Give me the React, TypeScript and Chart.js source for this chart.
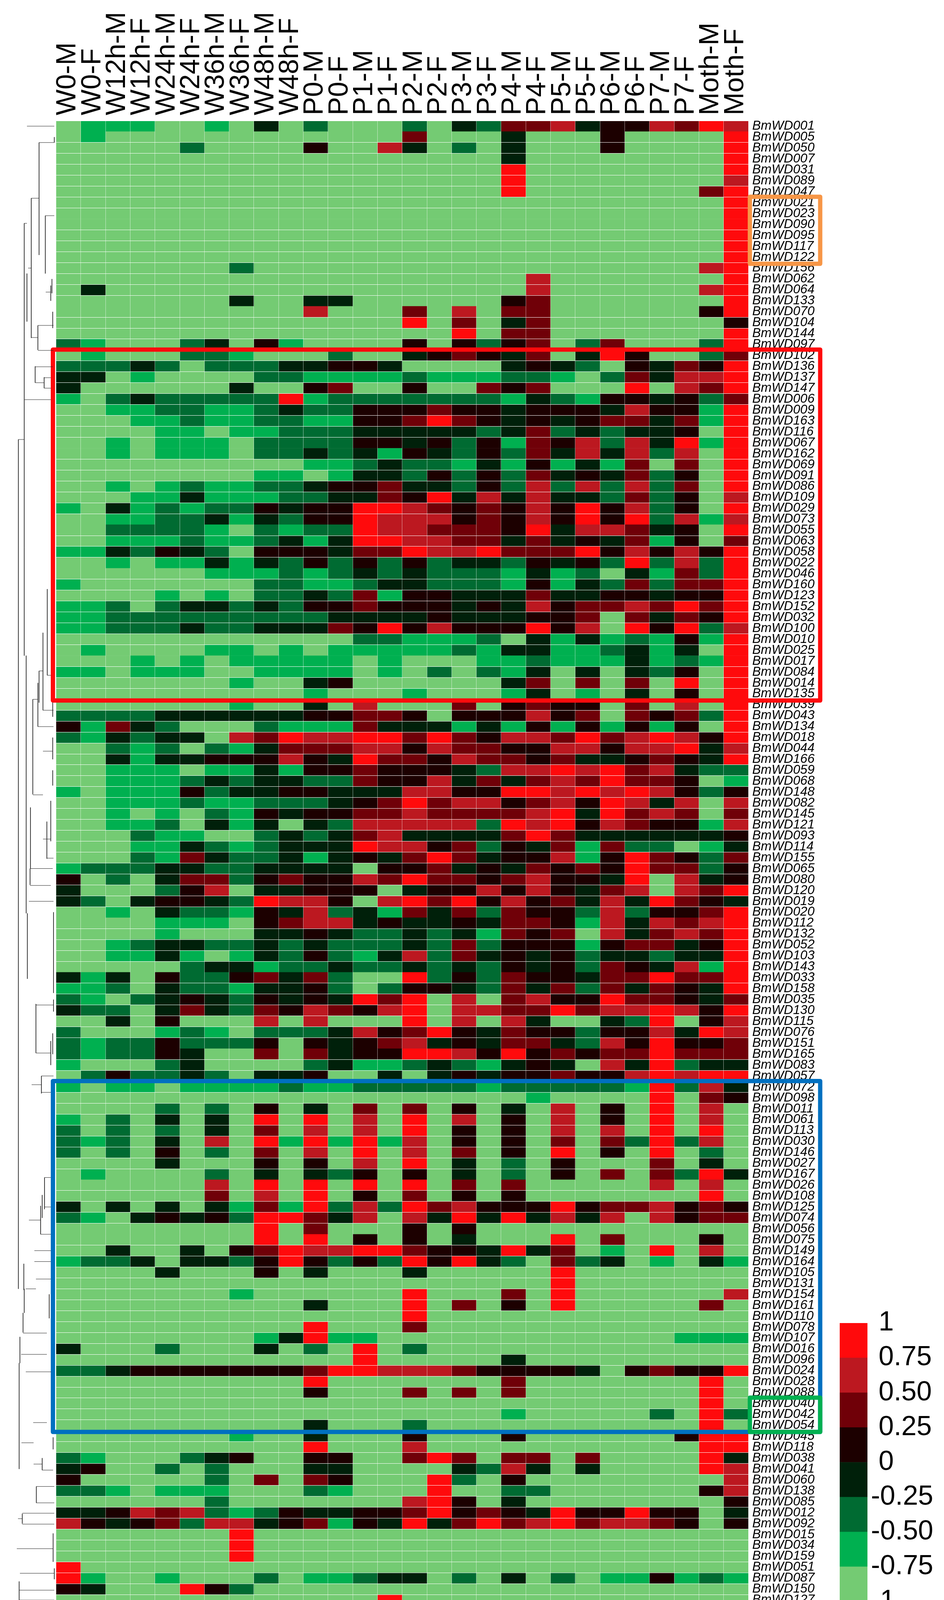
import React, { useEffect, useRef } from 'react';
import Chart from 'chart.js/auto';

const sampleLabels = ['W0-M', 'W0-F', 'W12h-M', 'W12h-F', 'W24h-M', 'W24h-F', 'W36h-M', 'W36h-F', 'W48h-M', 'W48h-F', 'P0-M', 'P0-F', 'P1-M', 'P1-F', 'P2-M', 'P2-F', 'P3-M', 'P3-F', 'P4-M', 'P4-F', 'P5-M', 'P5-F', 'P6-M', 'P6-F', 'P7-M', 'P7-F', 'Moth-M', 'Moth-F'];

const geneLabels = ['001', '005', '050', '007', '031', '089', '047', '021', '023', '090', '095', '117', '122', '156', '062', '064', '133', '070', '104', '144', '097',
  '102', '136', '137', '147', '006', '009', '163', '116', '067', '162', '069', '091', '086', '109', '029', '073', '055', '063', '058', '022', '046', '160', '123', '152', '032', '100', '010', '025', '017', '084', '014', '135',
  '039', '043', '134', '018', '044', '166', '059', '068', '148', '082', '145', '121', '093', '114', '155', '065', '080', '120', '019', '020', '112', '132', '052', '103', '143', '033', '158', '035', '130', '115', '076', '151', '165', '083', '057',
  '072', '098', '011', '061', '113', '030', '146', '027', '167', '026', '108', '125', '074', '056', '075', '149', '164', '105', '131', '154', '161', '110', '078', '107', '016', '096', '024', '028', '088', '040', '042', '054',
  '045', '118', '038', '041', '060', '138', '085', '012', '092', '015', '034', '159', '051', '087', '150', '127'].map(n => 'BmWD' + n);

// colour class of each cell, 0 (-1..-0.75) up to 7 (0.75..1), one string per gene
const geneLevels = [
  '0111 0010 3020 0020 3255 6344 6576',
  '0100 0000 0000 0050 0030 0040 0007',
  '0000 0200 0040 0630 2030 0040 0007',
  '0000 0000 0000 0000 0030 0000 0007',
  '0000 0000 0000 0000 0070 0000 0007',
  '0000 0000 0000 0000 0070 0000 0006',
  '0000 0000 0000 0000 0070 0000 0057',
  '0000 0000 0000 0000 0000 0000 0007',
  '0000 0000 0000 0000 0000 0000 0007',
  '0000 0000 0000 0000 0000 0000 0007',
  '0000 0000 0000 0000 0000 0000 0007',
  '0000 0000 0000 0000 0000 0000 0007',
  '0000 0000 0000 0000 0000 0000 0007',
  '0000 0002 0000 0000 0000 0000 0067',
  '0000 0000 0000 0000 0006 0000 0007',
  '0300 0000 0000 0000 0006 0000 0067',
  '0000 0003 0033 0000 0045 0000 0007',
  '0000 0000 0060 0050 6055 0000 0047',
  '0000 0000 0000 0070 5035 0000 0004',
  '0000 0000 0000 0000 7055 0000 0007',
  '2100 0230 4100 0040 4245 0250 0027',
  '0100 0221 0002 0034 5435 0374 0025',
  '2223 2022 2334 4300 0034 3204 3547',
  '3301 0000 2211 1121 1122 1025 3667',
  '3000 0003 0045 0040 0545 0007 0657',
  '1023 2222 2712 2222 2213 2144 3425',
  '0011 2211 2322 4445 4434 4436 4417',
  '0001 1211 2211 4457 5434 3455 3517',
  '0000 1101 1222 3333 3235 2323 3407',
  '0010 1110 2222 4434 2415 4626 3717',
  '0010 1110 2232 3143 2425 3636 2607',
  '0000 0000 0011 2322 1314 1315 0507',
  '0000 0000 1101 3324 2425 3435 2407',
  '0010 1211 2234 4533 2426 2626 2507',
  '0001 1311 1223 3547 3636 3325 2406',
  '1031 2122 4344 7765 4546 4746 2407',
  '0011 2231 3244 7666 4546 4747 2616',
  '0022 2210 2122 7665 5547 3665 3407',
  '0011 1211 2313 7766 5535 3435 1405',
  '1132 4320 4443 5576 6755 5746 4647',
  '0010 1131 3242 4242 3324 3427 2627',
  '0000 0011 1212 3232 2213 1203 1527',
  '1000 0000 2211 2332 2214 1325 2557',
  '0000 1010 2232 5144 3335 3344 3447',
  '1120 2332 3244 5444 3436 4556 5757',
  '1122 2222 2223 3334 3334 4505 3547',
  '1122 2322 3335 4746 4447 4607 4726',
  '0000 0000 0000 2211 1203 1312 1417',
  '0100 0011 0101 1111 2133 1123 1307',
  '0001 0101 1111 0100 0112 1113 1217',
  '1101 1100 1111 0102 0213 0303 2407',
  '0000 0001 0034 0000 0035 0505 0707',
  '0000 0000 0010 0010 0013 0103 0407',
  '0000 0001 0030 6000 5045 4405 0607',
  '2222 3333 3344 5540 4446 4505 4527',
  '4153 2000 2111 5333 1314 1414 1407',
  '2132 3306 5766 7757 5466 5756 7647',
  '0021 2021 3555 6646 5544 6646 6736',
  '0031 3344 4643 7554 6554 5334 5437',
  '0011 1011 3144 5444 3266 7675 6322',
  '0011 1232 3322 5446 3535 6575 5401',
  '1011 1423 3443 3366 4477 6767 6424',
  '0011 1211 2223 4575 6645 6476 3606',
  '0010 1021 4344 5565 5556 7375 6505',
  '0011 2031 3032 6666 6276 7465 4416',
  '0002 1100 2323 5633 3357 5333 3334',
  '0001 1321 2333 7664 5243 5152 2013',
  '0002 1532 2313 4357 5344 6147 5425',
  '1222 3322 3333 0445 3435 4547 5524',
  '4020 3552 4544 6575 5456 4437 0634',
  '3000 2460 3344 4034 4646 4356 0657',
  '3203 4432 7664 0675 7464 5363 7543',
  '0010 3221 4362 3153 5254 4262 4457',
  '0000 1110 4566 3433 4355 4163 6567',
  '0000 1000 3343 2232 3154 5063 5657',
  '0012 3322 3232 2232 5244 4145 5347',
  '0011 3101 3242 1362 5343 4233 2337',
  '0000 0233 1223 2232 3243 4254 3617',
  '3130 4224 5352 0072 4254 4355 7557',
  '1120 3221 3342 0244 3253 5253 5437',
  '2102 3432 4343 7570 6056 4475 5435',
  '3220 3532 5465 4670 6655 7566 7647',
  '0030 4000 6060 0070 6063 0032 7046',
  '2000 1210 2223 6457 4354 4244 6376',
  '2122 4222 4043 4563 4355 3264 7445',
  '2122 4300 5053 4477 6474 5455 7555',
  '1000 2300 0023 1123 2134 3063 7233',
  '0242 2320 3340 0303 4344 5446 7677',
  '1011 0111 1211 2222 2122 2221 7263',
  '0000 0000 0000 0000 0001 0000 7054',
  '0000 2020 4030 5050 4030 6040 7060',
  '1020 3030 7070 6070 6040 6040 7060',
  '2020 2030 5060 6070 4040 6060 7070',
  '2120 3060 7171 7160 4040 5052 7260',
  '2020 4020 5060 7060 5040 7040 7020',
  '0000 3000 4040 6070 3020 4000 5030',
  '0100 0020 3032 4040 3020 4050 5273',
  '0000 0060 7070 7070 5050 0000 6060',
  '0000 0050 6070 4050 4040 0000 0070',
  '3030 3031 5172 6275 6444 7455 6454',
  '2103 4342 7753 6063 7373 6360 6455',
  '0000 0000 7050 0040 4000 0000 0000',
  '0000 0000 7070 4040 3000 7050 0040',
  '0030 0304 5766 7754 4373 5010 7060',
  '1223 0332 4742 4274 7320 5230 1031',
  '0000 3000 4030 0030 0000 7000 0000',
  '0000 0000 0000 0000 0000 7000 0000',
  '0000 0001 0000 0070 0050 7000 0006',
  '0000 0000 0030 0070 5040 7000 0050',
  '0000 0000 0000 0070 0000 0000 0000',
  '0000 0000 0070 0050 0000 0000 0000',
  '0000 0000 1371 1000 0000 0000 0111',
  '3000 2000 3020 7020 0000 0000 0000',
  '0000 0000 0000 7000 0030 0000 0000',
  '2234 4444 4457 7666 5444 4304 5447',
  '0000 0000 0070 0000 0050 0000 0070',
  '0000 0000 0040 0050 5050 0000 0070',
  '0000 0000 0000 0000 0000 0000 0070',
  '0000 0000 0000 0000 0010 0000 2072',
  '0000 0000 0030 0020 0000 0000 0070',
  '0000 0001 0030 0040 0040 0000 0477',
  '0000 0000 0070 0060 0000 0000 0077',
  '2100 0234 0044 0057 5055 0500 0073',
  '3400 2020 0033 0000 3263 0300 0076',
  '4000 0020 5054 0007 2040 0000 0006',
  '2210 1110 0021 0007 0022 0000 0046',
  '0000 0020 0000 0067 4030 0000 0004',
  '3346 5621 2433 4457 4543 7447 4403',
  '6434 5266 3451 4373 5756 7566 5404',
  '0000 0007 0000 0000 0000 0000 0000',
  '0000 0007 0000 0000 0000 0000 0000',
  '0000 0007 0000 0000 0000 0000 0000',
  '7000 0000 0000 0000 0000 0000 0000',
  '7100 1000 2011 2330 2030 2011 4121',
  '4300 0742 0000 0000 0000 0000 0000',
  '0000 0000 0000 0700 0000 0000 0000',
].map(r => r.replace(/ /g, ''));

const levelColors = ['#74CB73', '#00B050', '#006B32', '#00200A', '#1C0000', '#700008', '#BC1820', '#FF0A0C'];
const legendBounds = [-1, -0.75, -0.5, -0.25, 0, 0.25, 0.5, 0.75, 1];
const legendTicks = ['-1', '-0.75', '-0.50', '-0.25', ' 0', ' 0.25', ' 0.50', ' 0.75', ' 1'];

// the picture has no white seam under these genes
const genesWithoutSeam = ['BmWD001', 'BmWD023', 'BmWD133', 'BmWD067', 'BmWD073', 'BmWD022', 'BmWD025', 'BmWD020', 'BmWD143', 'BmWD151', 'BmWD167', 'BmWD056'];

// dendrogram, height axis then row positions: [height, rowFrom, rowTo]
const dendroStems = [
  [139, 1.5, 2], [100, 2, 12.3], [80, 7.1, 19.9], [116, 8.7, 14], [62, 9.4, 49], [69, 14, 18.4],
  [130, 15.1, 16.5], [133, 14.5, 15.8], [135, 17.5, 19], [97, 18.75, 21], [90, 22.5, 24], [113, 23.5, 24.5],
  [47, 29.2, 107], [62, 107, 109.2], [67, 49, 72.6], [70, 72.6, 78.6], [121, 42.9, 50.8], [110, 46.9, 54],
  [100, 50.4, 53.3], [84, 53, 61.7], [97, 51.5, 55.5], [135, 53.3, 54.6], [135, 56.5, 58.5], [135, 59.5, 60.9],
  [78, 62.9, 68.5], [130, 62.3, 66], [120, 64.2, 67.6], [77, 68.5, 70], [137, 72.5, 79.9], [92, 80.9, 85.4],
  [137, 80.5, 81.6], [130, 84.3, 86.5], [135, 83.6, 85.5], [106, 87.5, 89.1], [114, 96.8, 99.7], [104, 99.4, 102],
  [108, 98.4, 100.5], [61, 104.7, 107.1], [126, 107.5, 109.7], [59, 109.2, 111], [51, 111.4, 113.8], [49, 113.8, 123.5],
  [136, 120.6, 121.7], [108, 122.5, 123.6], [93, 125.1, 126.6], [57, 127.6, 128.5], [136, 129.4, 132], [139, 132.6, 133.6],
  [49, 133.8, 135.5],
];
// [row, heightFrom, heightTo]
const dendroBranches = [
  [0.5, 69, 139], [2, 100, 139], [7.1, 80, 100], [8.7, 116, 139], [9.4, 62, 69], [13.5, 72, 80], [15.7, 117, 130],
  [18.75, 97, 137], [21.04, 97, 137], [19.86, 80, 97], [22.54, 90, 135], [24, 90, 113], [23.54, 113, 130], [24.5, 113, 130],
  [25.55, 63, 130], [29.2, 47, 63], [50.4, 100, 110], [50.8, 121, 130], [53, 84, 97], [55.5, 97, 137], [54, 110, 137],
  [57.75, 110, 135], [61.75, 84, 110], [68.5, 78, 135], [65.8, 110, 130], [67.55, 120, 137], [70.05, 77, 130], [71.5, 74, 137],
  [81, 92, 137], [85.4, 92, 130], [87.5, 106, 137], [88.3, 81, 106], [89, 106, 130], [96.8, 114, 130], [102, 104, 130],
  [99.5, 114, 130], [100.7, 74, 104], [103.5, 88, 130], [104.5, 88, 130], [106.1, 92, 130], [107, 66, 92], [111.05, 59, 120],
  [113, 54, 120], [114.6, 66, 131], [119.25, 85, 120], [121.1, 55, 86], [123.6, 108, 136], [123.05, 86, 108], [125.1, 93, 139],
  [126.6, 93, 139], [127.55, 57, 139], [128.55, 57, 139], [128.05, 46, 57], [130.8, 43, 136], [133.05, 51, 139], [134.6, 49, 139],
  [135.5, 49, 139],
];

const PAGE_W = 2417;
const PAGE_H = 4162;
const FONT = '"Liberation Sans", Arial, sans-serif';

// coloured frames round gene groups, drawn on top of the labels
const frames = [
  { from: 'BmWD021', to: 'BmWD122', color: '#F79646', wide: false },
  { from: 'BmWD102', to: 'BmWD135', color: '#FF0A0C', wide: true },
  { from: 'BmWD072', to: 'BmWD054', color: '#0070C0', wide: true },
  { from: 'BmWD040', to: 'BmWD054', color: '#00B050', wide: false },
];

const framePlugin = {
  id: 'frames',
  afterDraw(chart: any) {
    const { ctx, chartArea, scales } = chart;
    const half = (scales.y.bottom - scales.y.top) / geneLabels.length / 2;
    ctx.save();
    ctx.lineJoin = 'round';
    ctx.lineWidth = 11;
    frames.forEach(f => {
      const top = scales.y.getPixelForValue(geneLabels.indexOf(f.from)) - half - 1;
      const bottom = scales.y.getPixelForValue(geneLabels.indexOf(f.to)) + half + 3;
      const left = f.wide ? chartArea.left - 8 : chartArea.right + 4;
      ctx.strokeStyle = f.color;
      ctx.strokeRect(left, top, chartArea.right + 184 - left, bottom - top);
    });
    ctx.restore();
  },
};

const App: React.FC = () => {
  const heatRef = useRef<HTMLCanvasElement | null>(null);
  const treeRef = useRef<HTMLCanvasElement | null>(null);
  const legendRef = useRef<HTMLCanvasElement | null>(null);

  useEffect(() => {
    const noSeam = genesWithoutSeam.map(g => geneLabels.indexOf(g) + 1);
    const heat = new Chart(heatRef.current!, {
      type: 'bar',
      data: {
        labels: geneLabels,
        datasets: sampleLabels.map((name, col) => ({
          label: name,
          data: geneLabels.map(() => 1),
          backgroundColor: geneLevels.map(r => levelColors[Number(r[col])]),
          barPercentage: 1,
          categoryPercentage: 1,
          borderWidth: 0,
        })),
      },
      options: {
        indexAxis: 'y',
        responsive: false,
        animation: false,
        layout: { padding: { left: 143.5, top: 0, right: 0, bottom: 52 } },
        plugins: { legend: { display: false }, tooltip: { enabled: false } },
        scales: {
          x: { type: 'linear', display: false, stacked: true, min: 0, max: sampleLabels.length },
          xSamples: {
            type: 'category',
            labels: sampleLabels,
            position: 'top',
            offset: true,
            border: { display: false },
            grid: { color: 'rgba(255,255,255,0.6)', lineWidth: 1, offset: true, z: 1, drawTicks: false },
            ticks: { autoSkip: false, minRotation: 90, maxRotation: 90, padding: 14, labelOffset: 83, color: '#000', font: { family: FONT, size: 70 } },
            afterFit: (s: any) => { s.height = 309; },
          },
          y: {
            stacked: true,
            position: 'right',
            border: { display: false },
            grid: {
              color: (c: any) => (noSeam.includes(c.index) ? 'rgba(255,255,255,0)' : '#ffffff'),
              lineWidth: 1,
              offset: true,
              z: 1,
              drawTicks: false,
            },
            ticks: { autoSkip: false, padding: 10, color: '#000', font: { family: FONT, size: 33, style: 'italic' } },
            afterFit: (s: any) => { s.width = PAGE_W - 1916; },
          },
        },
      },
      plugins: [framePlugin],
    } as any);

    const treePoints: any[] = [];
    dendroStems.forEach(([h, a, b]) => treePoints.push({ x: h, y: a }, { x: h, y: b }, { x: NaN, y: NaN }));
    dendroBranches.forEach(([r, a, b]) => treePoints.push({ x: a, y: r }, { x: b, y: r }, { x: NaN, y: NaN }));
    const tree = new Chart(treeRef.current!, {
      type: 'scatter',
      data: {
        datasets: [{ data: treePoints, showLine: true, borderColor: '#222', borderWidth: 1, pointRadius: 0, spanGaps: false }],
      },
      options: {
        responsive: false,
        animation: false,
        layout: { padding: { top: 309, bottom: 52 } },
        plugins: { legend: { display: false }, tooltip: { enabled: false } },
        scales: {
          x: { type: 'linear', display: false, min: 30, max: 143 },
          y: { type: 'linear', display: false, reverse: true, min: 0, max: geneLabels.length },
        },
      },
    } as any);

    const legend = new Chart(legendRef.current!, {
      type: 'bar',
      data: {
        labels: ['scale'],
        datasets: levelColors.map((color, i) => ({
          data: [[legendBounds[i], legendBounds[i + 1]]],
          backgroundColor: color,
          barPercentage: 1,
          categoryPercentage: 1,
          grouped: false,
          borderWidth: 0,
        })),
      },
      options: {
        responsive: false,
        animation: false,
        layout: { padding: { top: 57, bottom: 60, left: 0, right: 0 } },
        plugins: { legend: { display: false }, tooltip: { enabled: false } },
        scales: {
          x: { display: false },
          y: {
            position: 'right',
            min: -1,
            max: 1,
            border: { display: false },
            grid: { display: false, drawTicks: false },
            ticks: {
              stepSize: 0.25,
              autoSkip: false,
              padding: 9,
              color: '#000',
              font: { family: FONT, size: 70 },
              callback: (_v: any, i: number) => legendTicks[i],
            },
            afterFit: (s: any) => { s.width = 196; },
          },
        },
      },
    } as any);

    return () => {
      heat.destroy();
      tree.destroy();
      legend.destroy();
    };
  }, []);

  return (
    <div style={{ position: 'absolute', left: 0, top: 0, width: PAGE_W, height: PAGE_H, overflow: 'hidden', background: '#fff' }}>
      <canvas ref={heatRef} width={PAGE_W} height={PAGE_H} style={{ position: 'absolute', left: 0, top: 0 }} />
      <canvas ref={treeRef} width={113} height={PAGE_H} style={{ position: 'absolute', left: 30, top: 0 }} />
      <canvas ref={legendRef} width={267} height={830} style={{ position: 'absolute', left: 2150, top: 3330 }} />
    </div>
  );
};

export default App;
